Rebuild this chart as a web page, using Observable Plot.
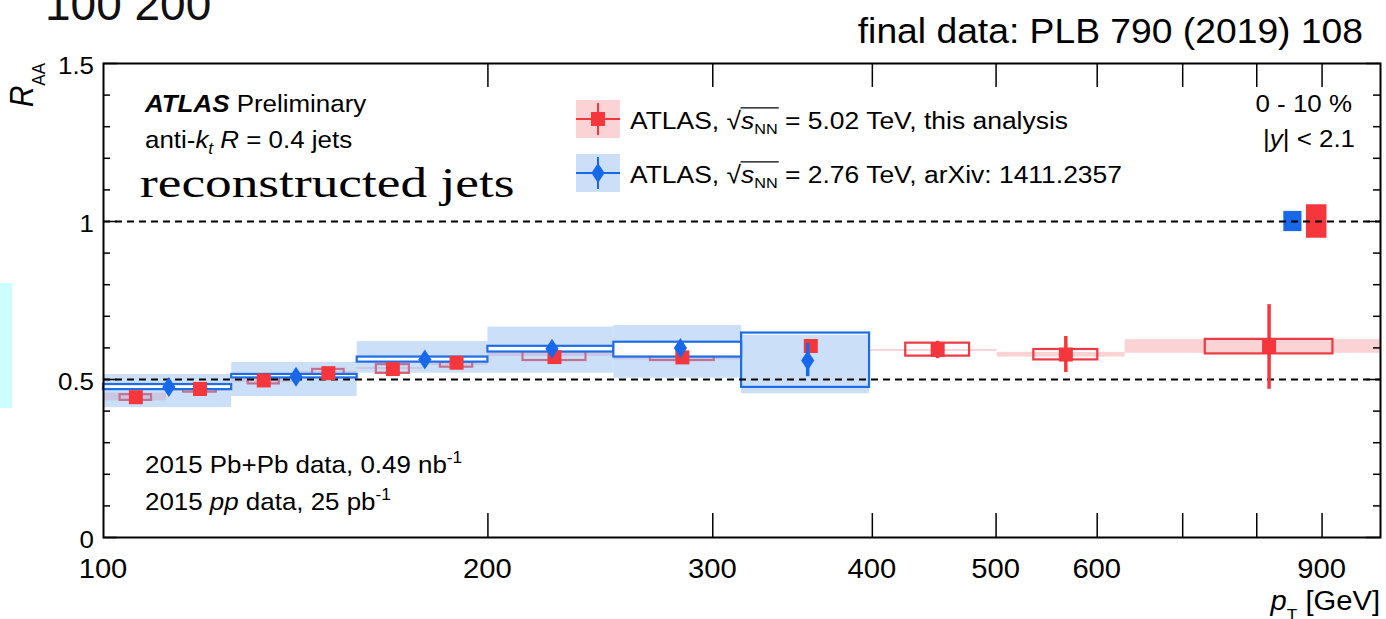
<!DOCTYPE html>
<html><head><meta charset="utf-8">
<script src="https://cdn.jsdelivr.net/npm/d3@7"></script>
<script src="https://cdn.jsdelivr.net/npm/@observablehq/plot@0.6"></script>
<style>
html,body{margin:0;padding:0;background:#fff;}
#chart{width:1386px;height:619px;overflow:hidden;position:relative;}
svg text{white-space:pre;}
</style></head><body><div id="chart"></div>
<script>
// ---------- data: ATLAS sqrt(sNN)=5.02 TeV (this analysis) ----------
const redPt     = [106, 119, 133.5, 150, 168.5, 189, 225.5, 284, 358, 450, 567, 818];
const redBinLo  = [100, 112, 126, 141, 158, 178, 200, 251, 316, 398, 501, 631];
const redBinHi  = [112, 126, 141, 158, 178, 200, 251, 316, 398, 501, 631, 1000];
const redRaa    = [0.444, 0.470, 0.497, 0.520, 0.533, 0.553, 0.571, 0.570, 0.606, 0.594, 0.579, 0.604];
const redStatLo = [0.438, 0.465, 0.492, 0.515, 0.527, 0.547, 0.564, 0.561, 0.591, 0.566, 0.522, 0.469];
const redStatHi = [0.450, 0.475, 0.502, 0.525, 0.539, 0.559, 0.578, 0.579, 0.621, 0.621, 0.636, 0.737];
// bin 9 systematic box / band are hidden behind the 2.76 TeV box in the picture
const redSysLo  = [0.434, 0.460, 0.486, 0.515, 0.520, 0.539, 0.560, 0.560, null, 0.574, 0.562, 0.581];
const redSysHi  = [0.452, 0.476, 0.505, 0.532, 0.547, 0.555, 0.588, 0.576, null, 0.615, 0.595, 0.627];
const redBandLo = [0.432, 0.462, 0.490, 0.518, 0.532, 0.545, 0.573, 0.562, null, 0.589, 0.571, 0.583];
const redBandHi = [0.457, 0.474, 0.500, 0.526, 0.538, 0.552, 0.588, 0.572, null, 0.595, 0.586, 0.626];

// ---------- data: ATLAS sqrt(sNN)=2.76 TeV, arXiv:1411.2357 ----------
const bluePt     = [112.5, 141.5, 178.5, 224.5, 283, 356];
const blueBinLo  = [100, 126, 158, 200, 251, 316];
const blueBinHi  = [126, 158, 200, 251, 316, 398];
const blueRaa    = [0.476, 0.509, 0.563, 0.597, 0.600, 0.560];
const blueStatLo = [0.470, 0.503, 0.556, 0.590, 0.592, 0.509];
const blueStatHi = [0.482, 0.515, 0.570, 0.604, 0.608, 0.614];
const blueSysLo  = [0.468, 0.505, 0.555, 0.587, 0.571, 0.475];
const blueSysHi  = [0.484, 0.516, 0.571, 0.605, 0.618, 0.647];
const blueBandLo = [0.411, 0.446, 0.520, 0.520, 0.504, 0.455];
const blueBandHi = [0.516, 0.554, 0.620, 0.666, 0.671, 0.640];

// global normalisation uncertainties drawn at R_AA = 1
const normSeries = ["2.76 TeV", "5.02 TeV"];
const normX1 = [840, 875];
const normX2 = [868, 908];
const normLo = [0.968, 0.947];
const normHi = [1.032, 1.053];

// reference lines and axis ticks
const refLines   = [0.5, 1];
const xTickMarks = [200, 300, 400, 500, 600, 700, 800, 900];
const xTickLabels = [100, 200, 300, 400, 500, 600, 900];
const yMinorTicks = [0.1, 0.2, 0.3, 0.4, 0.6, 0.7, 0.8, 0.9, 1.1, 1.2, 1.3, 1.4];
const yMajorTicks = [0, 0.5, 1, 1.5];
const yTickLabels = ["0", "0.5", "1", "1.5"];

// ---------- styles ----------
const SANS = "'Liberation Sans', Arial, Helvetica, sans-serif";
const SERIF = "'Liberation Serif', 'Times New Roman', serif";
const RED = "#f5363d", RED_BOX = "#ec3942", RED_BAND = "#fbd3d5";
const BLUE = "#1769ea", BLUE_BOX = "#1d6ee6", BLUE_BAND = "#8fb8f2", BLUE_SWATCH = "#cddff8";
const SX = 1.08;

const red = redPt.map((x, i) => {
  const q = Math.pow(redBinHi[i] / redBinLo[i], 0.25);
  return {x, lo: redBinLo[i], hi: redBinHi[i], bx1: x / q, bx2: x * q, y: redRaa[i],
    statLo: redStatLo[i], statHi: redStatHi[i], sysLo: redSysLo[i], sysHi: redSysHi[i],
    bandLo: redBandLo[i], bandHi: redBandHi[i]};
});
const blue = bluePt.map((x, i) => ({x, i, lo: blueBinLo[i], hi: blueBinHi[i], y: blueRaa[i],
  statLo: blueStatLo[i], statHi: blueStatHi[i], sysLo: blueSysLo[i], sysHi: blueSysHi[i],
  bandLo: blueBandLo[i], bandHi: blueBandHi[i]}));
const norm = normSeries.map((s, i) => ({s, x1: normX1[i], x2: normX2[i], y1: normLo[i], y2: normHi[i],
  color: i === 0 ? BLUE : RED}));

const diamond = {draw(ctx, size) {
  const r = Math.sqrt(size / Math.PI), w = r * 0.66;
  ctx.moveTo(0, -r); ctx.lineTo(w, 0); ctx.lineTo(0, r); ctx.lineTo(-w, 0); ctx.closePath();
}};

const W = 1386, H = 619, ML = 103, MR = 6, MT = 63, MB = 82;
const FW = W - ML - MR, FH = H - MT - MB;

const plot = Plot.plot({
  width: W, height: H,
  marginLeft: ML, marginRight: MR, marginTop: MT, marginBottom: MB,
  x: {type: "log", domain: [100, 1000], axis: null},
  y: {domain: [0, 1.5], axis: null},
  color: {type: "identity"},
  style: {background: "white", overflow: "visible"},
  marks: [
    Plot.rect(red, {x1: "lo", x2: "hi", y1: "bandLo", y2: "bandHi", fill: RED_BAND}),
    Plot.rect(red, {x1: "bx1", x2: "bx2", y1: "sysLo", y2: "sysHi", fill: "none", stroke: RED_BOX, strokeWidth: 2.2}),
    Plot.rect(blue, {x1: "lo", x2: "hi", y1: "bandLo", y2: "bandHi", fill: BLUE_BAND, fillOpacity: 0.45}),
    Plot.rect(blue.filter(d => d.i < 5), {x1: "lo", x2: "hi", y1: "sysLo", y2: "sysHi", fill: "white", stroke: BLUE_BOX, strokeWidth: 2.2}),
    Plot.rect(blue.filter(d => d.i >= 5), {x1: "lo", x2: "hi", y1: "sysLo", y2: "sysHi", fill: "none", stroke: BLUE_BOX, strokeWidth: 2.2}),
    Plot.rect(norm, {x1: "x1", x2: "x2", y1: "y1", y2: "y2", fill: "color"}),
    Plot.ruleY(refLines, {y: d => d, stroke: "black", strokeWidth: 2, strokeDasharray: "7,5"}),
    // ticks
    Plot.tickX(xTickMarks, {x: d => d, insetTop: FH - 24, stroke: "black", strokeWidth: 1.5}),
    Plot.tickX(xTickMarks, {x: d => d, insetBottom: FH - 24, stroke: "black", strokeWidth: 1.5}),
    Plot.tickY(yMinorTicks, {y: d => d, insetRight: FW - 7, stroke: "black", strokeWidth: 1.5}),
    Plot.tickY(yMinorTicks, {y: d => d, insetLeft: FW - 7, stroke: "black", strokeWidth: 1.5}),
    Plot.tickY(yMajorTicks, {y: d => d, insetRight: FW - 14, stroke: "black", strokeWidth: 1.5}),
    Plot.tickY(yMajorTicks, {y: d => d, insetLeft: FW - 14, stroke: "black", strokeWidth: 1.5}),
    // data points
    Plot.ruleX(red, {x: "x", y1: "statLo", y2: "statHi", stroke: RED, strokeWidth: 3.5}),
    Plot.dot(red, {x: "x", y: "y", symbol: "square", r: 7.9, fill: RED, stroke: "none"}),
    Plot.ruleX(blue, {x: "x", y1: "statLo", y2: "statHi", stroke: BLUE, strokeWidth: 3.5}),
    Plot.dot(blue, {x: "x", y: "y", symbol: diamond, r: 10, fill: BLUE, stroke: "none"}),
    Plot.frame({stroke: "black", strokeWidth: 2})
  ]
});
document.getElementById("chart").appendChild(plot);

const svg = d3.select(plot);
const xs = plot.scale("x"), ys = plot.scale("y");

function txt(x, y, parts, o = {}) {
  const size = o.size || 24, sx = o.sx ?? SX;
  const tr = o.rotate
    ? `translate(${x},${y}) rotate(${o.rotate}) scale(1,${sx})`
    : `translate(${x},${y}) scale(${sx},1)`;
  const g = svg.append("g").attr("transform", tr);
  const t = g.append("text").attr("font-family", o.family || SANS).attr("font-size", size)
    .attr("text-anchor", o.anchor || "start").attr("fill", o.fill || "#000");
  let cur = 0;
  for (const p of parts) {
    const [s, st] = typeof p === "string" ? [p, {}] : p;
    const target = st.dy ?? 0;
    const ts = t.append("tspan").text(s);
    if (target - cur !== 0) ts.attr("dy", target - cur);
    cur = target;
    if (st.italic) ts.attr("font-style", "italic");
    if (st.bold) ts.attr("font-weight", "bold");
    if (st.size) ts.attr("font-size", st.size);
  }
  return {g, t};
}

// cyan slide artifact and clipped slide text
svg.append("rect").attr("x", 0).attr("y", 283).attr("width", 12).attr("height", 125).attr("fill", "#ccfeff");
txt(45, 20, ["100 200"], {size: 46, sx: 1.0, fill: "#111"});
txt(1363, 43, ["final data: PLB 790 (2019) 108"], {size: 34.5, anchor: "end"});

// axis tick labels
for (const v of xTickLabels) txt(xs.apply(v), 578, [String(v)], {size: 27, anchor: "middle"});
yMajorTicks.forEach((v, i) => txt(ML - 9, ys.apply(v) + 10.5, [yTickLabels[i]], {size: 24, anchor: "end"}));

// axis titles
txt(1380, 610, [["p", {italic: true}], ["T", {size: 16, dy: 11}], [" [GeV]", {dy: 0}]], {size: 27, anchor: "end"});
txt(33, 63, [["R", {italic: true}], ["AA", {size: 17, dy: 11}]], {size: 30, anchor: "end", rotate: -90});

// in-plot labels
txt(145, 112, [["ATLAS", {bold: true, italic: true}], " Preliminary"], {size: 24});
txt(145, 148, ["anti-", ["k", {italic: true}], ["t", {italic: true, size: 16, dy: 6}], [" ", {dy: 0}], ["R", {italic: true}], " = 0.4 jets"], {size: 24});
txt(140, 197, ["reconstructed jets"], {family: SERIF, size: 43, sx: 1.24});
txt(1352, 112, ["0 - 10 %"], {size: 24, anchor: "end"});
txt(1355, 147, ["|", ["y", {italic: true}], "| < 2.1"], {size: 24, anchor: "end"});
txt(145, 473, ["2015 Pb+Pb data, 0.49 nb", ["-1", {size: 16, dy: -10}]], {size: 24});
txt(145, 510, ["2015 ", ["pp", {italic: true}], " data, 25 pb", ["-1", {size: 16, dy: -10}]], {size: 24});

// legend
function legendRow(cy, color, band, marker, label) {
  svg.append("rect").attr("x", 576).attr("y", cy - 19).attr("width", 44).attr("height", 38).attr("fill", band);
  svg.append("line").attr("x1", 576).attr("x2", 620).attr("y1", cy).attr("y2", cy).attr("stroke", color).attr("stroke-width", 2);
  svg.append("line").attr("x1", 598).attr("x2", 598).attr("y1", cy - 16).attr("y2", cy + 16).attr("stroke", color).attr("stroke-width", 2);
  if (marker === "square") svg.append("rect").attr("x", 591).attr("y", cy - 7).attr("width", 14).attr("height", 14).attr("fill", color);
  else svg.append("path").attr("d", `M598,${cy - 10}L604.6,${cy}L598,${cy + 10}L591.4,${cy}Z`).attr("fill", color);
  const {g, t} = txt(630, cy + 10, ["ATLAS, ", "\u221A", ["s", {italic: true}], ["NN", {size: 15, dy: 5}], [label, {dy: 0}]], {size: 24.5});
  const node = t.node();
  try {
    const r = node.getExtentOfChar(7), n = node.getExtentOfChar(10);
    g.append("line").attr("x1", r.x + r.width - 0.5).attr("x2", n.x + n.width + 1)
      .attr("y1", r.y + 1).attr("y2", r.y + 1).attr("stroke", "#000").attr("stroke-width", 1.4);
  } catch (e) {}
}
legendRow(119, RED, RED_BAND, "square", " = 5.02 TeV, this analysis");
legendRow(173, BLUE, BLUE_SWATCH, "diamond", " = 2.76 TeV, arXiv: 1411.2357");
</script></body></html>
